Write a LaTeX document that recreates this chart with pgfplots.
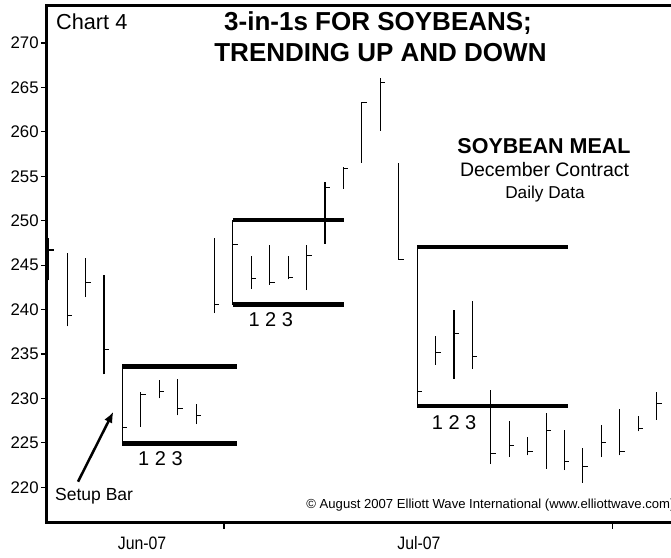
\documentclass[border=0pt]{standalone}
\usepackage{pgfplots}
\pgfplotsset{compat=1.18}
\usepackage{pgfplotstable}
\usepackage{fontspec}
\setmainfont{Liberation Sans}
\newfontfamily\narrowf{Liberation Sans}[FakeStretch=0.88]
\usetikzlibrary{arrows.meta}
\tikzset{txt/.style={inner sep=0pt}}

\pgfplotstableread{
i high low close
0 248.0 243.3 246.7
1 246.4 238.1 239.3
2 245.8 241.4 243.0
3 243.9 232.7 235.5
4 233.6 224.95 226.7
5 230.7 226.8 230.4
6 232.1 230.0 230.8
7 232.2 228.1 228.9
8 229.4 227.1 228.1
9 248.0 239.6 240.6
10 250.08 240.57 247.3
11 246.0 242.3 243.5
12 247.3 242.8 243.0
13 246.0 243.4 243.6
14 247.3 242.2 246.1
15 254.4 247.4 253.7
16 256.0 253.6 255.9
17 263.4 256.5 263.3
18 266.1 260.1 265.6
19 256.5 245.6 245.6
20 247.06 229.17 230.8
21 237.0 233.8 235.2
22 240.0 232.2 237.3
23 241.0 233.3 234.7
24 230.9 222.6 223.8
25 227.5 223.4 224.7
26 225.7 223.6 224.0
27 228.4 222.1 226.4
28 226.5 221.95 222.9
29 224.4 220.5 222.3
30 227.0 223.4 225.0
31 228.8 223.6 224.0
32 228.0 226.3 226.6
33 230.7 227.6 229.4
}\bars

\begin{document}
\begin{tikzpicture}
\useasboundingbox (0,0) rectangle (671pt,557pt);
\begin{axis}[
  at={(46.8pt,34.3pt)}, anchor=south west,
  scale only axis, width=640pt, height=517.4pt,
  xmin=-0.103, xmax=34.64, ymin=216.02, ymax=274.24,
  clip=false,
  axis line style={line width=3pt},
  tick align=outside, major tick length=6pt,
  tick style={line width=1.2pt, black},
  xtick pos=bottom, ytick pos=left,
  xtick={9.52,30.6}, xticklabels={},
  extra x ticks={5.07,20.1},
  extra x tick labels={Jun-07,Jul-07},
  extra x tick style={major tick length=0pt,
    xticklabel style={anchor=base, yshift=-27pt, font=\narrowf\fontsize{18}{20}\selectfont}},
  ytick={220,225,...,270},
  yticklabel style={font=\fontsize{16.8}{18}\selectfont, inner xsep=2pt},
  /pgf/number format/assume math mode=true,
]
% high-low ranges
\addplot[draw=none, forget plot,
  error bars/.cd, y dir=plus, y explicit, error mark=none,
  error bar style={draw=black, line width=1.1pt}]
  table[x=i, y=low, y error expr=\thisrow{high}-\thisrow{low}] {\bars};
% closing ticks
\addplot[draw=none, forget plot,
  error bars/.cd, x dir=plus, x fixed=0.27, error mark=none,
  error bar style={draw=black, line width=1.1pt}]
  table[x=i, y=close] {\bars};
% 3-in-1 boxes
\addplot[black, line width=4.5pt] coordinates {(4,233.6) (10.21,233.6)};
\addplot[black, line width=4.5pt] coordinates {(4,224.95) (10.21,224.95)};
\addplot[black, line width=4.5pt] coordinates {(10,250.08) (16.03,250.08)};
\addplot[black, line width=4.5pt] coordinates {(10,240.57) (16.03,240.57)};
\addplot[black, line width=4.5pt] coordinates {(20,247.06) (28.18,247.06)};
\addplot[black, line width=4.5pt] coordinates {(20,229.17) (28.18,229.17)};

\node[txt, anchor=base west, font=\fontsize{21.7}{24}\selectfont] at (axis cs:0.396,271.54) {Chart 4};
\node[txt, anchor=base, font=\bfseries\fontsize{26}{28}\selectfont] at (axis cs:17.88,271.40) {3-in-1s FOR SOYBEANS;};
\node[txt, anchor=base, font=\bfseries\fontsize{26}{28}\selectfont] at (axis cs:18.01,267.86) {TRENDING UP AND DOWN};
\node[txt, anchor=base, font=\bfseries\fontsize{21.5}{24}\selectfont] at (axis cs:26.89,257.58) {SOYBEAN MEAL};
\node[txt, anchor=base, font=\fontsize{19.5}{22}\selectfont] at (axis cs:26.92,254.95) {December Contract};
\node[txt, anchor=base, font=\fontsize{17.2}{20}\selectfont] at (axis cs:26.94,252.52) {Daily Data};
\node[txt, anchor=base west, font=\fontsize{20}{22}\selectfont] at (axis cs:4.85,222.43) {1 2 3};
\node[txt, anchor=base west, font=\fontsize{20}{22}\selectfont] at (axis cs:10.84,238.07) {1 2 3};
\node[txt, anchor=base west, font=\fontsize{20}{22}\selectfont] at (axis cs:20.79,226.53) {1 2 3};
\node[txt, anchor=base west, font=\fontsize{17.5}{20}\selectfont] at (axis cs:0.342,218.49) {Setup Bar};
\node[txt, anchor=base west, font=\fontsize{13.1}{15}\selectfont] at (axis cs:13.98,217.6) {\textcopyright{} August 2007 Elliott Wave International (www.elliottwave.com)};
\draw[line width=2.5pt, -{Latex[length=11pt,width=9pt]}] (axis cs:1.59,220.63) -- (axis cs:3.51,228.51);
\end{axis}
\end{tikzpicture}
\end{document}
